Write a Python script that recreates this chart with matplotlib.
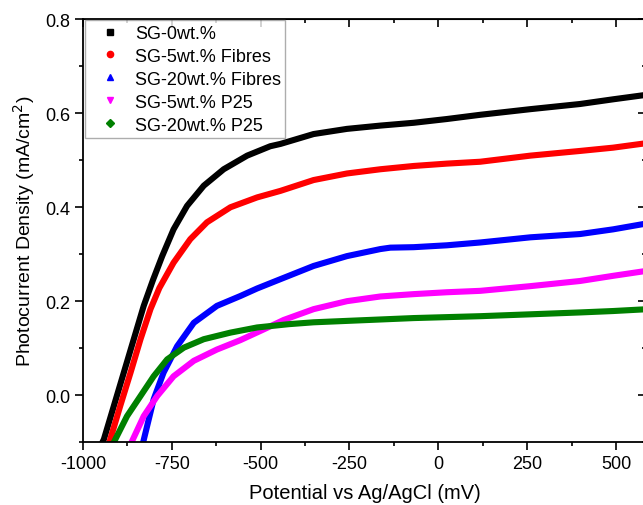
import numpy as np
import matplotlib
matplotlib.use('Agg')
import matplotlib.pyplot as plt
from matplotlib.lines import Line2D
from matplotlib.ticker import MultipleLocator

plt.rcParams['font.family'] = ['Liberation Sans', 'DejaVu Sans']
plt.rcParams['axes.unicode_minus'] = False

# --- data (potential in mV, photocurrent in mA/cm2) ---
labels = ['SG-0wt.%', 'SG-5wt.% Fibres', 'SG-20wt.% Fibres', 'SG-5wt.% P25', 'SG-20wt.% P25']
colors = ['#000000', '#ff0000', '#0000ff', '#ff00ff', '#008000']
markers = ['s', 'o', '^', 'v', 'D']

v_black = [-948, -941, -913, -885, -857, -829, -803, -777, -745, -707, -660, -604, -538, -473,
           -444, -351, -257, -163, -69, 24, 118, 259, 399, 492, 590]
j_black = [-0.105, -0.094, -0.023, 0.048, 0.119, 0.190, 0.245, 0.296, 0.353, 0.403, 0.446, 0.481, 0.510, 0.530,
           0.535, 0.556, 0.567, 0.574, 0.580, 0.588, 0.597, 0.609, 0.620, 0.630, 0.640]

v_red = [-927, -923, -895, -866, -838, -810, -785, -745, -698, -651, -585, -510, -444,
         -351, -257, -163, -69, 24, 118, 259, 399, 492, 590]
j_red = [-0.105, -0.094, -0.023, 0.048, 0.119, 0.183, 0.228, 0.282, 0.332, 0.368, 0.400, 0.421, 0.435,
         0.458, 0.472, 0.481, 0.488, 0.493, 0.497, 0.510, 0.520, 0.527, 0.537]

v_blue = [-832, -801, -773, -735, -688, -623, -557, -510, -444, -351, -257, -163, -135,
          -69, 24, 118, 259, 399, 492, 590]
j_blue = [-0.105, -0.009, 0.048, 0.104, 0.154, 0.190, 0.211, 0.227, 0.247, 0.275, 0.296, 0.311, 0.314,
          0.315, 0.319, 0.325, 0.336, 0.343, 0.353, 0.366]

v_mag = [-866, -829, -791, -745, -688, -623, -557, -491, -435, -351, -257, -163, -69,
         24, 118, 259, 399, 492, 590]
j_mag = [-0.105, -0.045, -0.002, 0.040, 0.073, 0.097, 0.117, 0.140, 0.160, 0.183, 0.200, 0.210, 0.215,
         0.219, 0.222, 0.232, 0.243, 0.254, 0.265]

v_green = [-916, -876, -838, -801, -763, -716, -660, -585, -510, -421, -351, -257, -163,
           -69, 24, 118, 259, 399, 492, 590]
j_green = [-0.105, -0.045, -0.002, 0.040, 0.076, 0.101, 0.119, 0.133, 0.144, 0.151, 0.155, 0.158, 0.161,
           0.164, 0.166, 0.168, 0.172, 0.176, 0.179, 0.183]

series = [(v_black, j_black), (v_red, j_red), (v_blue, j_blue), (v_mag, j_mag), (v_green, j_green)]

fig = plt.figure(figsize=(6.43, 5.06), dpi=100)
ax = fig.add_axes([0.129, 0.1245, 0.876, 0.835])

for (v, j), c in zip(series, colors):
    ax.plot(v, j, color=c, lw=4.4, solid_joinstyle='round')

ax.set_xlim(-1000, 585)
ax.set_ylim(-0.1, 0.8)
ax.xaxis.set_major_locator(MultipleLocator(250))
ax.xaxis.set_minor_locator(MultipleLocator(125))
ax.yaxis.set_minor_locator(MultipleLocator(0.1))
ax.set_yticks([0.0, 0.2, 0.4, 0.6, 0.8])
ax.set_yticklabels(['0.0', '0.2', '0.4', '0.6', '0.8'])

for s in ax.spines.values():
    s.set_linewidth(1.3)
ax.tick_params(which='both', direction='out', width=1.2, labelsize=13, top=False, right=False)
ax.tick_params(which='major', length=5.5)
ax.tick_params(which='minor', length=3)

# mirrored axes with inward ticks on top and right
sec_x = ax.secondary_xaxis('top')
sec_x.xaxis.set_major_locator(MultipleLocator(250))
sec_x.xaxis.set_minor_locator(MultipleLocator(125))
sec_x.tick_params(which='both', direction='in', width=1.2, labeltop=False)
sec_x.tick_params(which='major', length=6)
sec_x.tick_params(which='minor', length=3)
sec_y = ax.secondary_yaxis('right')
sec_y.yaxis.set_major_locator(MultipleLocator(0.2))
sec_y.yaxis.set_minor_locator(MultipleLocator(0.1))
sec_y.tick_params(which='both', direction='in', width=1.2, labelright=False)
sec_y.tick_params(which='major', length=6)
sec_y.tick_params(which='minor', length=3)

ax.set_xlabel('Potential vs Ag/AgCl (mV)', fontsize=14.5, labelpad=8)
ax.set_ylabel('Photocurrent Density (mA/cm$^2$)', fontsize=14, labelpad=6)

handles = [Line2D([], [], ls='none', marker=m, color=c, markersize=4.5)
           for m, c in zip(markers, colors)]
leg = ax.legend(handles, labels, loc='upper left', bbox_to_anchor=(0.004, 0.998),
                fontsize=13, frameon=True, fancybox=False, borderpad=0.25,
                labelspacing=0.33, handletextpad=0.3, handlelength=2.2, borderaxespad=0)
leg.get_frame().set_edgecolor('#999999')
leg.get_frame().set_linewidth(1.0)

fig.savefig('out.png', dpi=100)
